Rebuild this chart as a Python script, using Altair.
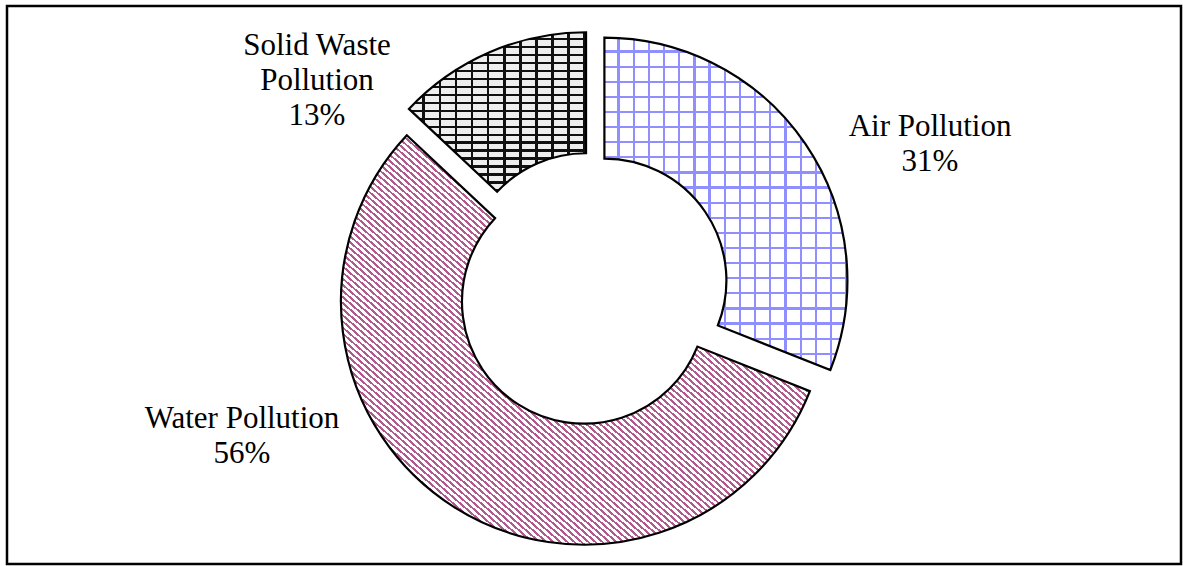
import math

import altair as alt
import pandas as pd

# ---- data -------------------------------------------------------------
categories = ["Air Pollution", "Water Pollution", "Solid Waste Pollution"]
shares = [31, 56, 13]
label_names = ["Air Pollution", "Water Pollution", "Solid Waste\nPollution"]

# ---- layout (pixels inside the framed plot area) -----------------------
W, H = 1174, 558
CX, CY = 585, 283          # donut centre
R_OUT, R_IN = 243, 122     # outer radius, hole radius (50 % hole)
EXPLODE = 15               # every slice is pulled out by this much
label_x = [923, 235, 310]
label_y = [130, 422, 49]

FONT = "Liberation Serif"


def slice_size(start_pct, end_pct):
    """Width and height of the bounding box of one donut slice."""
    a0 = start_pct / 100 * 2 * math.pi
    a1 = end_pct / 100 * 2 * math.pi
    xs, ys = [], []
    for k in range(721):
        a = a0 + (a1 - a0) * k / 720
        for rad in (R_OUT, R_IN):
            xs.append(rad * math.sin(a))
            ys.append(-rad * math.cos(a))
    return max(xs) - min(xs), max(ys) - min(ys)


def stripes(vector, n, line_frac, line_color, gap_color):
    """Hard-edged linear gradient that paints n parallel lines."""
    stops = []
    for i in range(n):
        a = round(i / n, 6)
        b = round((i + 1 - line_frac) / n, 6)
        c = round((i + 1) / n, 6)
        stops += [
            {"offset": a, "color": gap_color},
            {"offset": b, "color": gap_color},
            {"offset": b, "color": line_color},
            {"offset": c, "color": line_color},
        ]
    x1, y1, x2, y2 = vector
    return {"gradient": "linear", "x1": x1, "y1": y1, "x2": x2, "y2": y2,
            "stops": stops}


# slice extents, used to size the fill textures
ends = [sum(shares[: i + 1]) for i in range(len(shares))]
starts = [e - s for e, s in zip(ends, shares)]
sizes = [slice_size(s, e) for s, e in zip(starts, ends)]

CLEAR = "rgba(255,255,255,0)"
VERT = (0, 0, 1, 0)
HORZ = (0, 0, 0, 1)
DOWN_DIAG = (0, 1, 1, 0)

# Air: light-blue grid
aw, ah = sizes[0]
air_fills = [
    stripes(VERT, round(aw / 15.3), 0.15, "#8f8fff", "white"),
    stripes(HORZ, round(ah / 15.4), 0.15, "#8f8fff", CLEAR),
]

# Water: fine diagonal hatching
ww, wh = sizes[1]
period = 4.6
n_diag = round(2 / (period * math.sqrt(1 / ww ** 2 + 1 / wh ** 2)))
water_fills = [stripes(DOWN_DIAG, n_diag, 0.42, "#b05a8e", "white")]

# Solid waste: dark brick-like grid
sw, sh = sizes[2]
solid_fills = [
    stripes(VERT, round(sw / 16.5), 0.16, "#111111", "#eeeeee"),
    stripes(HORZ, round(sh / 8.0), 0.3, "#111111", CLEAR),
]

df = pd.DataFrame({
    "order": list(range(len(categories))),
    "category": categories,
    "share": shares,
    "label_name": label_names,
    "label_x": label_x,
    "label_y": label_y,
})

base = alt.Chart(df).transform_window(
    end="sum(share)", frame=[None, 0], sort=[alt.SortField("order")]
).transform_calculate(
    start="datum.end - datum.share",
    mid="datum.end - datum.share / 2",
).transform_calculate(
    px=f"{CX} + {EXPLODE} * sin(datum.mid / 100 * 2 * PI)",
    py=f"{CY} - {EXPLODE} * cos(datum.mid / 100 * 2 * PI)",
    label="datum.label_name + '\\n' + datum.share + '%'",
)

arc_enc = dict(
    theta=alt.Theta("start:Q", scale=alt.Scale(domain=[0, 100])),
    theta2="end:Q",
    x=alt.X("px:Q", scale=None, axis=None),
    y=alt.Y("py:Q", scale=None, axis=None),
)

layers = []
for cat, fills in zip(categories, [air_fills, water_fills, solid_fills]):
    sub = base.transform_filter(alt.datum.category == cat)
    for i, fill in enumerate(fills):
        last = i == len(fills) - 1
        mark_kw = dict(outerRadius=R_OUT, innerRadius=R_IN, fill=fill)
        if last:
            mark_kw.update(stroke="black", strokeWidth=2.2, strokeJoin="miter")
        layers.append(sub.mark_arc(**mark_kw).encode(**arc_enc))

labels = base.mark_text(
    font=FONT, fontSize=31, color="black", align="center",
    baseline="alphabetic", lineBreak="\n", lineHeight=35,
).encode(
    x=alt.X("label_x:Q", scale=None, axis=None),
    y=alt.Y("label_y:Q", scale=None, axis=None),
    text="label:N",
)

chart = alt.layer(*layers, labels).properties(
    width=W,
    height=H,
    padding={"left": 7, "top": 6, "right": 2, "bottom": 2},
    autosize=alt.AutoSizeParams(type="none"),
    background="white",
).configure_view(stroke="black", strokeWidth=2.5)

chart.save("out.html", embed_options={"renderer": "svg", "actions": False})
